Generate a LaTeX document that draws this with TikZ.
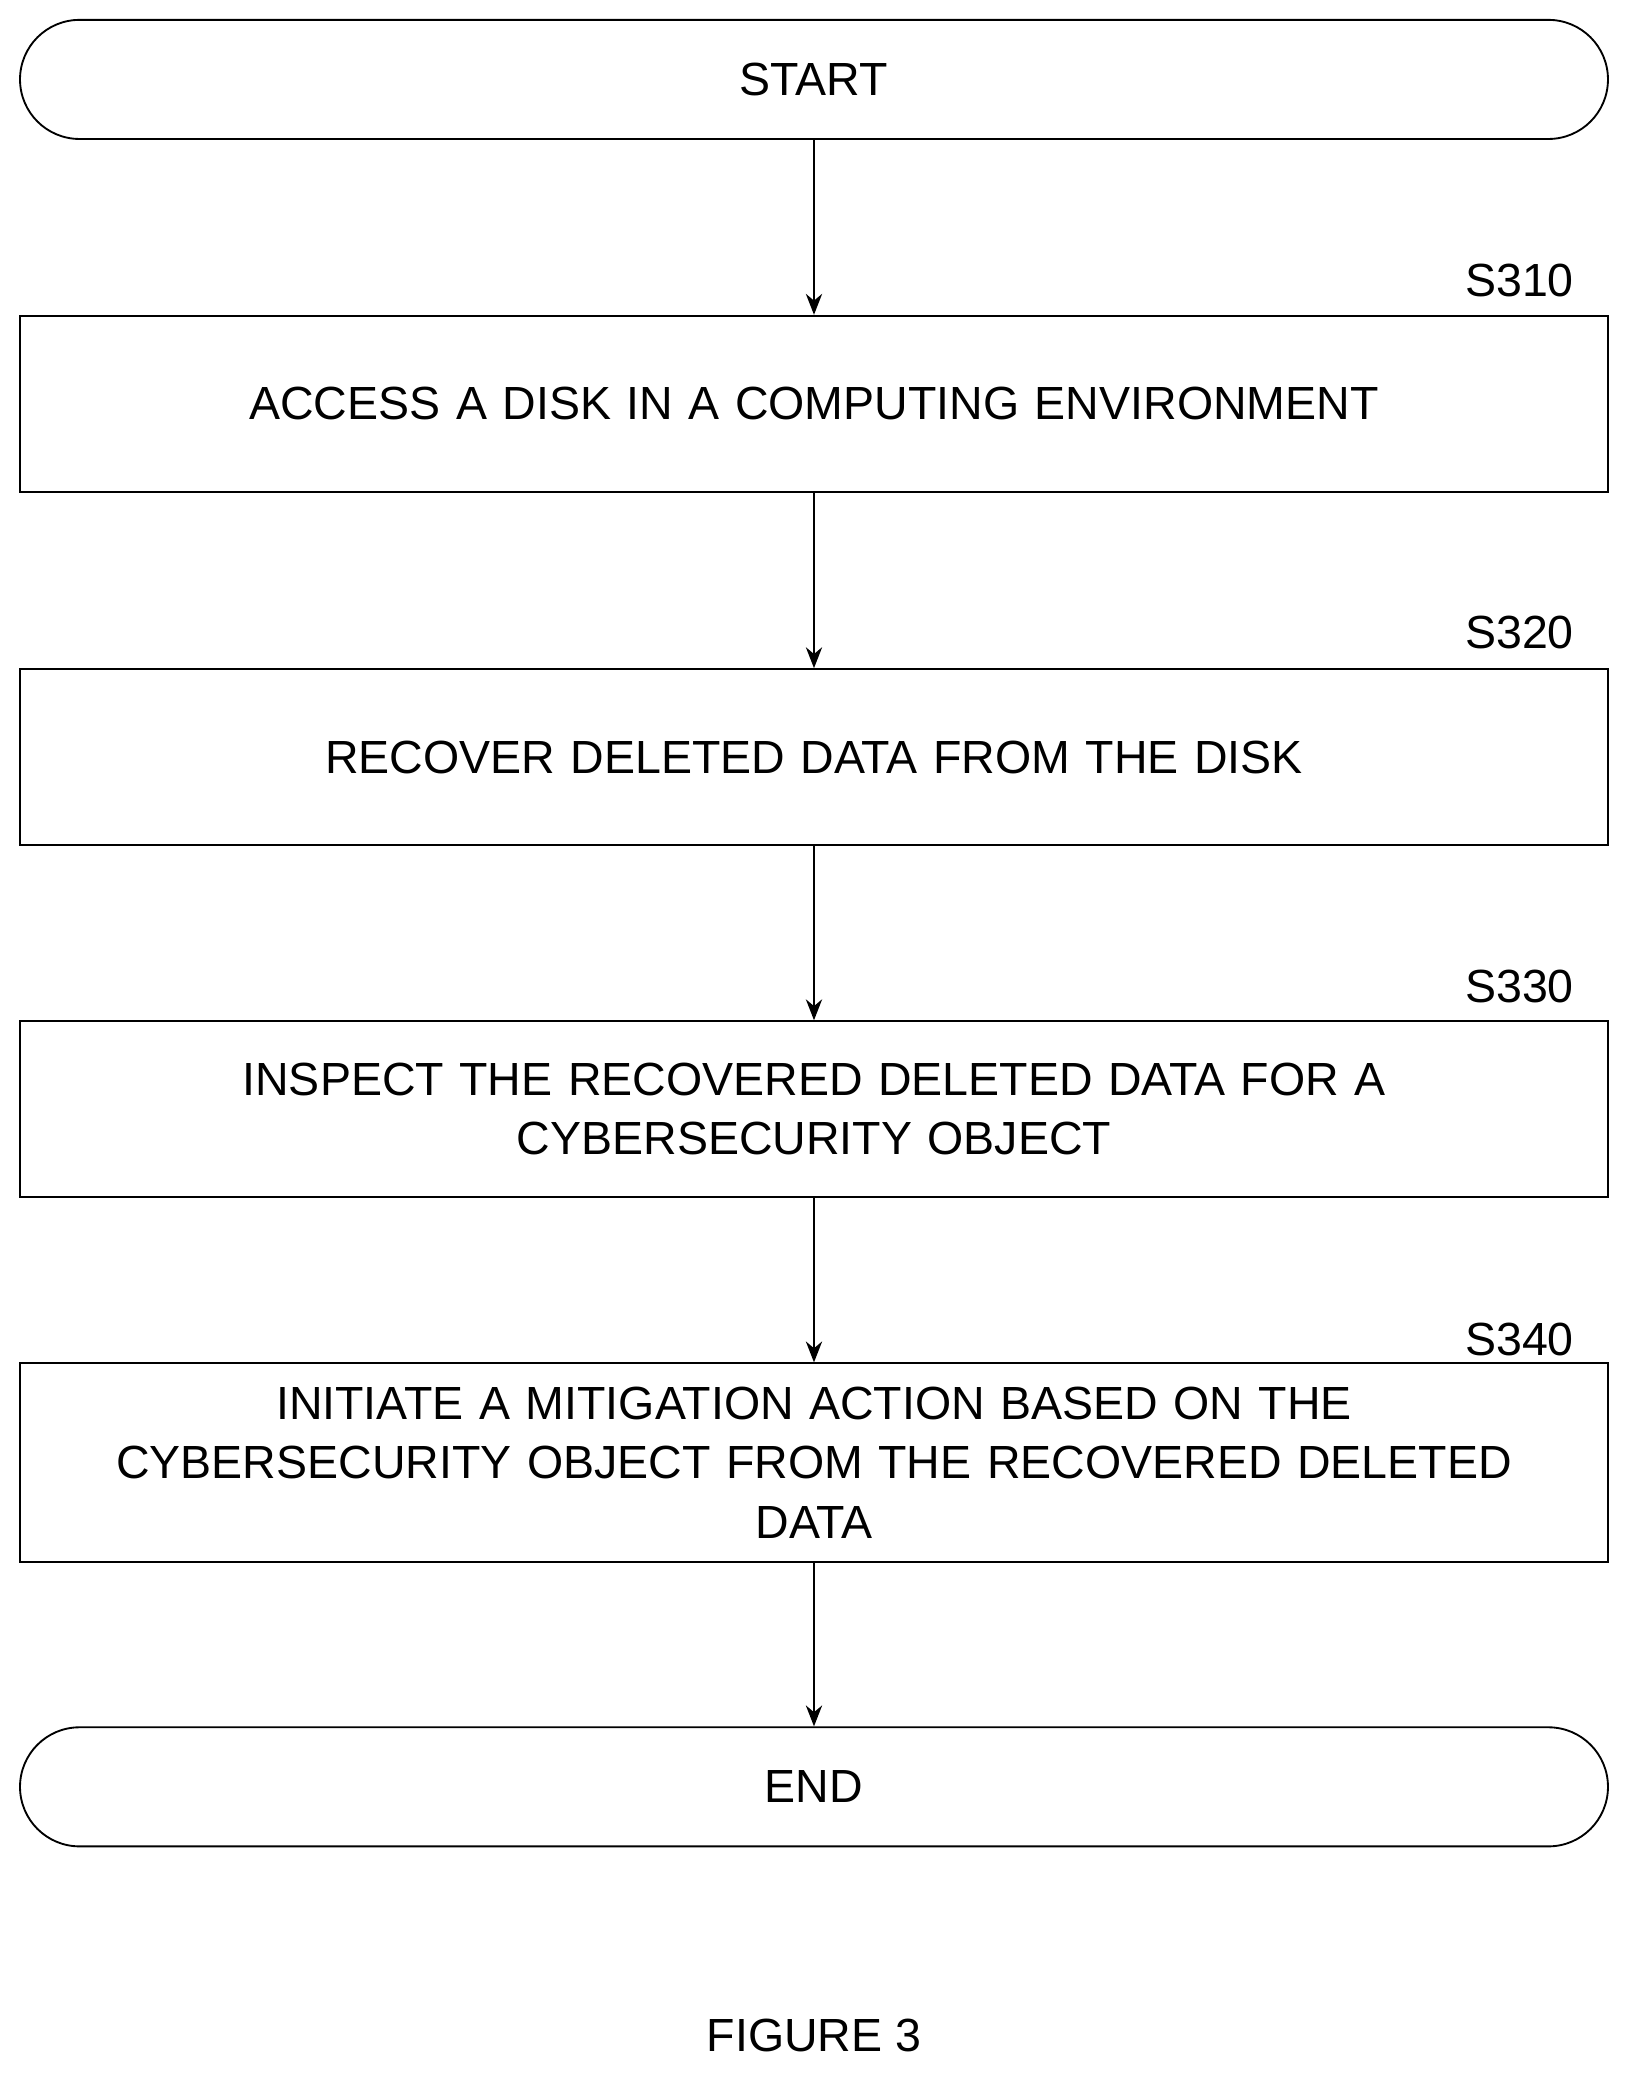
\documentclass[tikz,border=0pt]{standalone}
\usepackage{fontspec}
\setmainfont{Liberation Sans}
\usetikzlibrary{positioning,arrows.meta}
\begin{document}
\begin{tikzpicture}[x=0.02cm,y=-0.02cm,
	every node/.style={font=\fontsize{20}{25.5}\selectfont},
	stepbox/.style={draw,thick,minimum width=24cm,minimum height=2.66cm,align=center,text width=23cm},
	term/.style={draw,thick,rounded corners=0.9cm,minimum width=24cm,minimum height=1.8cm},
	flow/.style={-{Stealth[length=9pt,width=7pt]},thick}]
		\useasboundingbox (0,0) rectangle (1235,1570);
		\node[term] (start)at(615,60) {START};
		\node[stepbox] (s310)at(615,305) {ACCESS A DISK IN A COMPUTING ENVIRONMENT};
		\node[stepbox] (s320)at(615,572) {RECOVER DELETED DATA FROM THE DISK};
		\node[stepbox] (s330)at(615,838) {INSPECT THE RECOVERED DELETED DATA FOR A\\CYBERSECURITY OBJECT};
		\node[stepbox,minimum height=3cm] (s340)at(615,1105) {INITIATE A MITIGATION ACTION BASED ON THE\\CYBERSECURITY OBJECT FROM THE RECOVERED DELETED\\DATA};
		\node[term] (end)at(615,1350) {END};
		\node (l310)at(1148,212) {S310};
		\node (l320)at(1148,478) {S320};
		\node (l330)at(1148,745) {S330};
		\node (l340)at(1148,1012) {S340};
		\node (figure)at(615,1538) {FIGURE 3};
		\draw[flow] (start) -- (s310);
		\draw[flow] (s310) -- (s320);
		\draw[flow] (s320) -- (s330);
		\draw[flow] (s330) -- (s340);
		\draw[flow] (s340) -- (end);
\end{tikzpicture}
\end{document}
